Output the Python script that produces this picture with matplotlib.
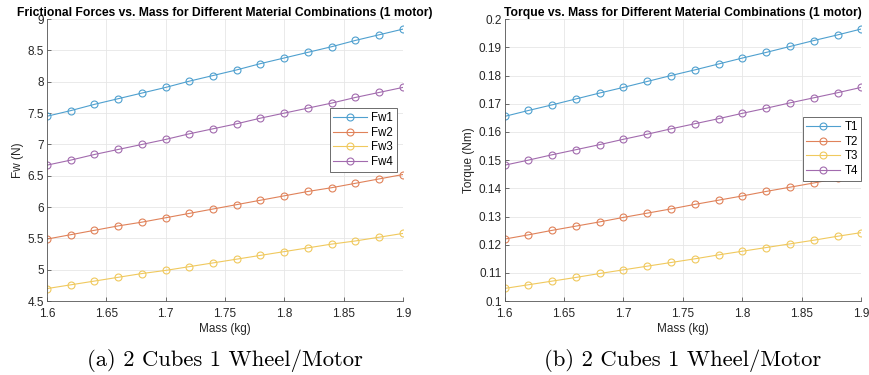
import matplotlib.pyplot as plt

mass = [1.60, 1.62, 1.64, 1.66, 1.68, 1.70, 1.72, 1.74,
        1.76, 1.78, 1.80, 1.82, 1.84, 1.86, 1.88, 1.90]

fw1 = [7.45, 7.54, 7.64, 7.73, 7.82, 7.91, 8.01, 8.10, 8.19, 8.29, 8.38, 8.47, 8.56, 8.66, 8.75, 8.84]
fw2 = [5.49, 5.56, 5.63, 5.70, 5.76, 5.83, 5.90, 5.97, 6.04, 6.11, 6.18, 6.25, 6.31, 6.38, 6.45, 6.52]
fw3 = [4.70, 4.76, 4.82, 4.88, 4.94, 4.99, 5.05, 5.11, 5.17, 5.23, 5.29, 5.35, 5.41, 5.46, 5.52, 5.58]
fw4 = [6.67, 6.75, 6.84, 6.92, 7.00, 7.08, 7.17, 7.25, 7.33, 7.42, 7.50, 7.58, 7.66, 7.75, 7.83, 7.91]

t1 = [0.1655, 0.1676, 0.1696, 0.1717, 0.1738, 0.1758, 0.1779, 0.1800,
      0.1820, 0.1841, 0.1862, 0.1882, 0.1903, 0.1924, 0.1944, 0.1965]
t2 = [0.1220, 0.1235, 0.1251, 0.1266, 0.1281, 0.1297, 0.1312, 0.1327,
      0.1343, 0.1358, 0.1373, 0.1389, 0.1404, 0.1419, 0.1435, 0.1450]
t3 = [0.1045, 0.1058, 0.1071, 0.1084, 0.1098, 0.1111, 0.1124, 0.1137,
      0.1150, 0.1164, 0.1177, 0.1190, 0.1203, 0.1216, 0.1230, 0.1243]
t4 = [0.1482, 0.1500, 0.1519, 0.1537, 0.1555, 0.1574, 0.1592, 0.1611,
      0.1629, 0.1647, 0.1666, 0.1684, 0.1703, 0.1721, 0.1739, 0.1758]

x_ticks = [1.6, 1.65, 1.7, 1.75, 1.8, 1.85, 1.9]
x_tick_labels = ["1.6", "1.65", "1.7", "1.75", "1.8", "1.85", "1.9"]
fw_ticks = [4.5, 5, 5.5, 6, 6.5, 7, 7.5, 8, 8.5, 9]
fw_tick_labels = ["4.5", "5", "5.5", "6", "6.5", "7", "7.5", "8", "8.5", "9"]
t_ticks = [0.1, 0.11, 0.12, 0.13, 0.14, 0.15, 0.16, 0.17, 0.18, 0.19, 0.2]
t_tick_labels = ["0.1", "0.11", "0.12", "0.13", "0.14", "0.15", "0.16", "0.17", "0.18", "0.19", "0.2"]

colors = ["#4fa0cf", "#e0825a", "#f0c95e", "#a26bae"]

plt.rcParams["font.family"] = ["Liberation Sans", "DejaVu Sans"]


def style_axes(ax, yticks, ylabels):
    ax.set_xlim(1.6, 1.9)
    ax.set_xticks(x_ticks)
    ax.set_xticklabels(x_tick_labels)
    ax.set_ylim(yticks[0], yticks[-1])
    ax.set_yticks(yticks)
    ax.set_yticklabels(ylabels)
    ax.grid(True, color="#e6e6e6", linewidth=0.6)
    ax.set_axisbelow(True)
    for side in ["top", "right"]:
        ax.spines[side].set_visible(False)
    for side in ["left", "bottom"]:
        ax.spines[side].set_color("#555555")
        ax.spines[side].set_linewidth(0.6)
    ax.tick_params(direction="in", length=3, width=0.6, colors="#555555",
                   labelcolor="#262626", labelsize=8.5)
    ax.tick_params(axis="x", pad=5)
    ax.tick_params(axis="y", pad=2)


def plot_panel(ax, series, names, title, ylabel, caption, leg_anchor):
    for vals, name, c in zip(series, names, colors):
        ax.plot(mass, vals, color=c, linewidth=0.8, marker="o", markersize=5,
                markerfacecolor="none", markeredgewidth=0.8, label=name)
    ax.set_title(title, fontsize=8.7, fontweight="bold", pad=2)
    ax.set_xlabel("Mass (kg)", fontsize=8.5, labelpad=2, color="#262626")
    ax.set_ylabel(ylabel, fontsize=8.5, labelpad=3, color="#262626")
    leg = ax.legend(loc="upper right", bbox_to_anchor=leg_anchor, fontsize=8.3,
                    fancybox=False, framealpha=1, edgecolor="#555555",
                    handlelength=2.9, handletextpad=0.4, borderpad=0.3,
                    labelspacing=0.25, borderaxespad=0)
    leg.get_frame().set_linewidth(0.6)
    ax.text(0.5, -0.168, caption, transform=ax.transAxes, ha="center", va="top",
            fontsize=16.3, family="cmr10")


fig = plt.figure(figsize=(8.7, 3.75), dpi=100)
ax1 = fig.add_axes([0.054, 0.197, 0.409, 0.752])
ax2 = fig.add_axes([0.580, 0.197, 0.410, 0.752])

plot_panel(ax1, [fw1, fw2, fw3, fw4], ["Fw1", "Fw2", "Fw3", "Fw4"],
           "Frictional Forces vs. Mass for Different Material Combinations (1 motor)",
           "Fw (N)", "(a) 2 Cubes 1 Wheel/Motor", (0.983, 0.684))
style_axes(ax1, fw_ticks, fw_tick_labels)

plot_panel(ax2, [t1, t2, t3, t4], ["T1", "T2", "T3", "T4"],
           "Torque vs. Mass for Different Material Combinations (1 motor)",
           "Torque (Nm)", "(b) 2 Cubes 1 Wheel/Motor", (1.0, 0.652))
style_axes(ax2, t_ticks, t_tick_labels)

fig.savefig("out.png", dpi=100)
